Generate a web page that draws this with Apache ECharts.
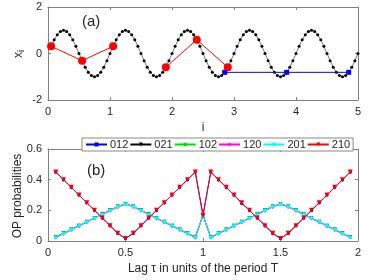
<!DOCTYPE html>
<html>
<head>
<meta charset="utf-8">
<script src="https://cdn.jsdelivr.net/npm/echarts@6/dist/echarts.min.js"></script>
<style>html,body{margin:0;padding:0;background:#fff}#c{width:374px;height:280px}</style>
</head>
<body>
<div id="c"></div>
<script>
// ---- panel (a): sampled sine x_i vs i ----
const waveI = [0.05,0.1,0.15,0.2,0.25,0.3,0.35,0.4,0.45,0.5,0.55,0.6,0.65,0.7,0.75,0.8,0.85,0.9,0.95,1.0,
1.05,1.1,1.15,1.2,1.25,1.3,1.35,1.4,1.45,1.5,1.55,1.6,1.65,1.7,1.75,1.8,1.85,1.9,1.95,2.0,
2.05,2.1,2.15,2.2,2.25,2.3,2.35,2.4,2.45,2.5,2.55,2.6,2.65,2.7,2.75,2.8,2.85,2.9,2.95,3.0,
3.05,3.1,3.15,3.2,3.25,3.3,3.35,3.4,3.45,3.5,3.55,3.6,3.65,3.7,3.75,3.8,3.85,3.9,3.95,4.0,
4.05,4.1,4.15,4.2,4.25,4.3,4.35,4.4,4.45,4.5,4.55,4.6,4.65,4.7,4.75,4.8,4.85,4.9,4.95,5.0];
const waveX = [0.31,0.59,0.81,0.95,1,0.95,0.81,0.59,0.31,0,-0.31,-0.59,-0.81,-0.95,-1,-0.95,-0.81,-0.59,-0.31,0,
0.31,0.59,0.81,0.95,1,0.95,0.81,0.59,0.31,0,-0.31,-0.59,-0.81,-0.95,-1,-0.95,-0.81,-0.59,-0.31,0,
0.31,0.59,0.81,0.95,1,0.95,0.81,0.59,0.31,0,-0.31,-0.59,-0.81,-0.95,-1,-0.95,-0.81,-0.59,-0.31,0,
0.31,0.59,0.81,0.95,1,0.95,0.81,0.59,0.31,0,-0.31,-0.59,-0.81,-0.95,-1,-0.95,-0.81,-0.59,-0.31,0,
0.31,0.59,0.81,0.95,1,0.95,0.81,0.59,0.31,0,-0.31,-0.59,-0.81,-0.95,-1,-0.95,-0.81,-0.59,-0.31,0];
const redAI = [0.05,0.55,1.05];
const redAX = [0.31,-0.31,0.31];
const redBI = [1.9,2.4,2.9];
const redBX = [-0.59,0.59,-0.59];
const blueI = [2.85,3.85,4.85];
const blueX = [-0.81,-0.81,-0.81];
const ticksA_X = [0,1,2,3,4,5];
const ticksA_Y = [-2,0,2];

// ---- panel (b): ordinal pattern probabilities vs lag ----
const lags = [0.05,0.1,0.15,0.2,0.25,0.3,0.35,0.4,0.45,0.5,0.55,0.6,0.65,0.7,0.75,0.8,0.85,0.9,0.95,1.0,
1.05,1.1,1.15,1.2,1.25,1.3,1.35,1.4,1.45,1.5,1.55,1.6,1.65,1.7,1.75,1.8,1.85,1.9,1.95];
const p012 = [0.45,0.40,0.35,0.30,0.25,0.20,0.15,0.10,0.05,0.017,0.05,0.10,0.15,0.20,0.25,0.30,0.35,0.40,0.45,0.167,
0.45,0.40,0.35,0.30,0.245,0.20,0.15,0.10,0.05,0.017,0.05,0.10,0.15,0.20,0.25,0.30,0.35,0.40,0.45];
const p021 = [0.025,0.05,0.075,0.10,0.125,0.15,0.175,0.20,0.225,0.242,0.225,0.20,0.175,0.15,0.125,0.10,0.075,0.05,0.025,0.167,
0.025,0.05,0.075,0.10,0.125,0.15,0.175,0.20,0.225,0.242,0.225,0.20,0.175,0.15,0.125,0.10,0.075,0.05,0.025];
const p102 = [0.025,0.05,0.075,0.10,0.125,0.15,0.175,0.20,0.225,0.242,0.225,0.20,0.175,0.15,0.125,0.10,0.075,0.05,0.025,0.167,
0.025,0.05,0.075,0.10,0.125,0.15,0.175,0.20,0.225,0.242,0.225,0.20,0.175,0.15,0.125,0.10,0.075,0.05,0.025];
const p120 = [0.023,0.046,0.072,0.097,0.122,0.148,0.172,0.197,0.222,0.240,0.223,0.197,0.172,0.147,0.122,0.097,0.072,0.047,0.022,0.167,
0.023,0.047,0.072,0.097,0.122,0.147,0.172,0.197,0.222,0.240,0.222,0.197,0.172,0.147,0.122,0.097,0.072,0.047,0.023];
const p201 = [0.025,0.05,0.075,0.10,0.125,0.15,0.175,0.20,0.225,0.242,0.225,0.20,0.175,0.15,0.125,0.10,0.075,0.05,0.025,0.167,
0.025,0.05,0.075,0.10,0.125,0.15,0.175,0.20,0.225,0.242,0.225,0.20,0.175,0.15,0.125,0.10,0.075,0.05,0.025];
const p210 = [0.45,0.40,0.35,0.30,0.25,0.20,0.15,0.10,0.05,0.017,0.05,0.10,0.15,0.20,0.25,0.30,0.35,0.40,0.45,0.167,
0.45,0.40,0.35,0.30,0.25,0.20,0.15,0.10,0.05,0.017,0.05,0.10,0.15,0.20,0.25,0.30,0.35,0.40,0.45];
const patternNames = ['012','021','102','120','201','210'];
const ticksB_X = [0,0.5,1,1.5,2];
const ticksB_Y = [0,0.2,0.4,0.6];

const zip = (a, b) => a.map((v, k) => [v, b[k]]);
const TXT = '#262626', AX = '#808080', FONT = 'Liberation Sans, Arial, sans-serif';

function axisPair(kind, gridIndex, min, max, interval, showLabels, pos) {
  return {
    type: 'value', gridIndex, min, max, interval, position: pos,
    axisLine: { show: true, onZero: false, lineStyle: { color: AX, width: 1 } },
    axisTick: { show: true, inside: true, length: 3, lineStyle: { color: AX } },
    axisLabel: { show: showLabels, color: TXT, fontSize: 11, fontFamily: FONT, margin: 6 },
    splitLine: { show: false }
  };
}

const lineColors = ['#0000ff', '#000000', '#00e000', '#ff00ff', '#00ffff', '#ff0000'];
const symbols = ['rect', 'triangle', 'circle', 'diamond', 'circle', 'triangle'];
const symSizes = [3, 4, 3, 4, 4, 5];
const symRot = [0, 180, 0, 0, 0, 180];
const pData = [p012, p021, p102, p120, p201, p210];

const seriesB = patternNames.map((n, k) => ({
  name: n, type: 'line', xAxisIndex: 2, yAxisIndex: 2,
  data: zip(lags, pData[k]),
  symbol: symbols[k], symbolSize: symSizes[k], symbolRotate: symRot[k], showSymbol: true,
  lineStyle: { color: lineColors[k], width: 1 },
  itemStyle: { color: lineColors[k] },
  animation: false, z: 2 + k
}));

const option = {
  animation: false,
  grid: [
    { left: 48, right: 16, top: 7, height: 93 },
    { left: 48, right: 16, top: 149, height: 92 }
  ],
  xAxis: [
    axisPair('x', 0, 0, 5, 1, true, 'bottom'),
    axisPair('x', 0, 0, 5, 1, false, 'top'),
    axisPair('x', 1, 0, 2, 0.5, true, 'bottom'),
    axisPair('x', 1, 0, 2, 0.5, false, 'top')
  ],
  yAxis: [
    axisPair('y', 0, -2, 2, 2, true, 'left'),
    axisPair('y', 0, -2, 2, 2, false, 'right'),
    axisPair('y', 1, 0, 0.6, 0.2, true, 'left'),
    axisPair('y', 1, 0, 0.6, 0.2, false, 'right')
  ],
  legend: {
    data: patternNames,
    left: 82, top: 138,
    itemWidth: 21, itemHeight: 5, itemGap: 1,
    padding: [1, 3],
    backgroundColor: '#fff', borderColor: '#888', borderWidth: 1, borderRadius: 0,
    textStyle: { color: TXT, fontSize: 11, fontFamily: FONT, padding: [0, 0, 0, -2] },
    z: 10
  },
  series: [
    { type: 'line', xAxisIndex: 0, yAxisIndex: 0, data: zip(waveI, waveX),
      symbol: 'circle', symbolSize: 3, showSymbol: true,
      lineStyle: { color: '#555', width: 0.8 }, itemStyle: { color: '#000' }, z: 2 },
    { type: 'line', xAxisIndex: 0, yAxisIndex: 0, data: zip(redAI, redAX),
      symbol: 'circle', symbolSize: 8, lineStyle: { color: '#ff0000', width: 1 }, itemStyle: { color: '#ff0000' }, z: 3 },
    { type: 'line', xAxisIndex: 0, yAxisIndex: 0, data: zip(redBI, redBX),
      symbol: 'circle', symbolSize: 8, lineStyle: { color: '#ff0000', width: 1 }, itemStyle: { color: '#ff0000' }, z: 3 },
    { type: 'line', xAxisIndex: 0, yAxisIndex: 0, data: zip(blueI, blueX),
      symbol: 'rect', symbolSize: 5, lineStyle: { color: '#0000ff', width: 1 }, itemStyle: { color: '#0000ff' }, z: 4 }
  ].concat(seriesB),
  graphic: [
    { type: 'text', left: 82, top: 14, style: { text: '(a)', fontSize: 15, fontFamily: FONT, fill: TXT } },
    { type: 'text', left: 87, top: 163, style: { text: '(b)', fontSize: 15, fontFamily: FONT, fill: TXT } },
    { type: 'text', x: 203, y: 128, style: { text: 'i', fontSize: 12, fontFamily: FONT, fill: TXT, align: 'center', verticalAlign: 'middle' } },
    { type: 'text', x: 203, y: 269, style: { text: 'Lag τ in units of the period T', fontSize: 12, fontFamily: FONT, fill: TXT, align: 'center', verticalAlign: 'middle' } },
    { type: 'text', x: 18, y: 196, rotation: Math.PI / 2, style: { text: 'OP probabilities', fontSize: 12, fontFamily: FONT, fill: TXT, align: 'center', verticalAlign: 'middle' } },
    { type: 'text', x: 19, y: 54, rotation: Math.PI / 2, style: { text: '{x|x}{s|i}', fontFamily: FONT, fill: TXT, align: 'center', verticalAlign: 'middle',
        rich: { x: { fontSize: 12, fontFamily: FONT, fill: TXT, color: TXT }, s: { fontSize: 9, fontFamily: FONT, color: TXT, padding: [6, 0, 0, 0] } } } }
  ]
};

const chart = echarts.init(document.getElementById('c'), null, { renderer: 'canvas' });
chart.setOption(option);
</script>
</body>
</html>
